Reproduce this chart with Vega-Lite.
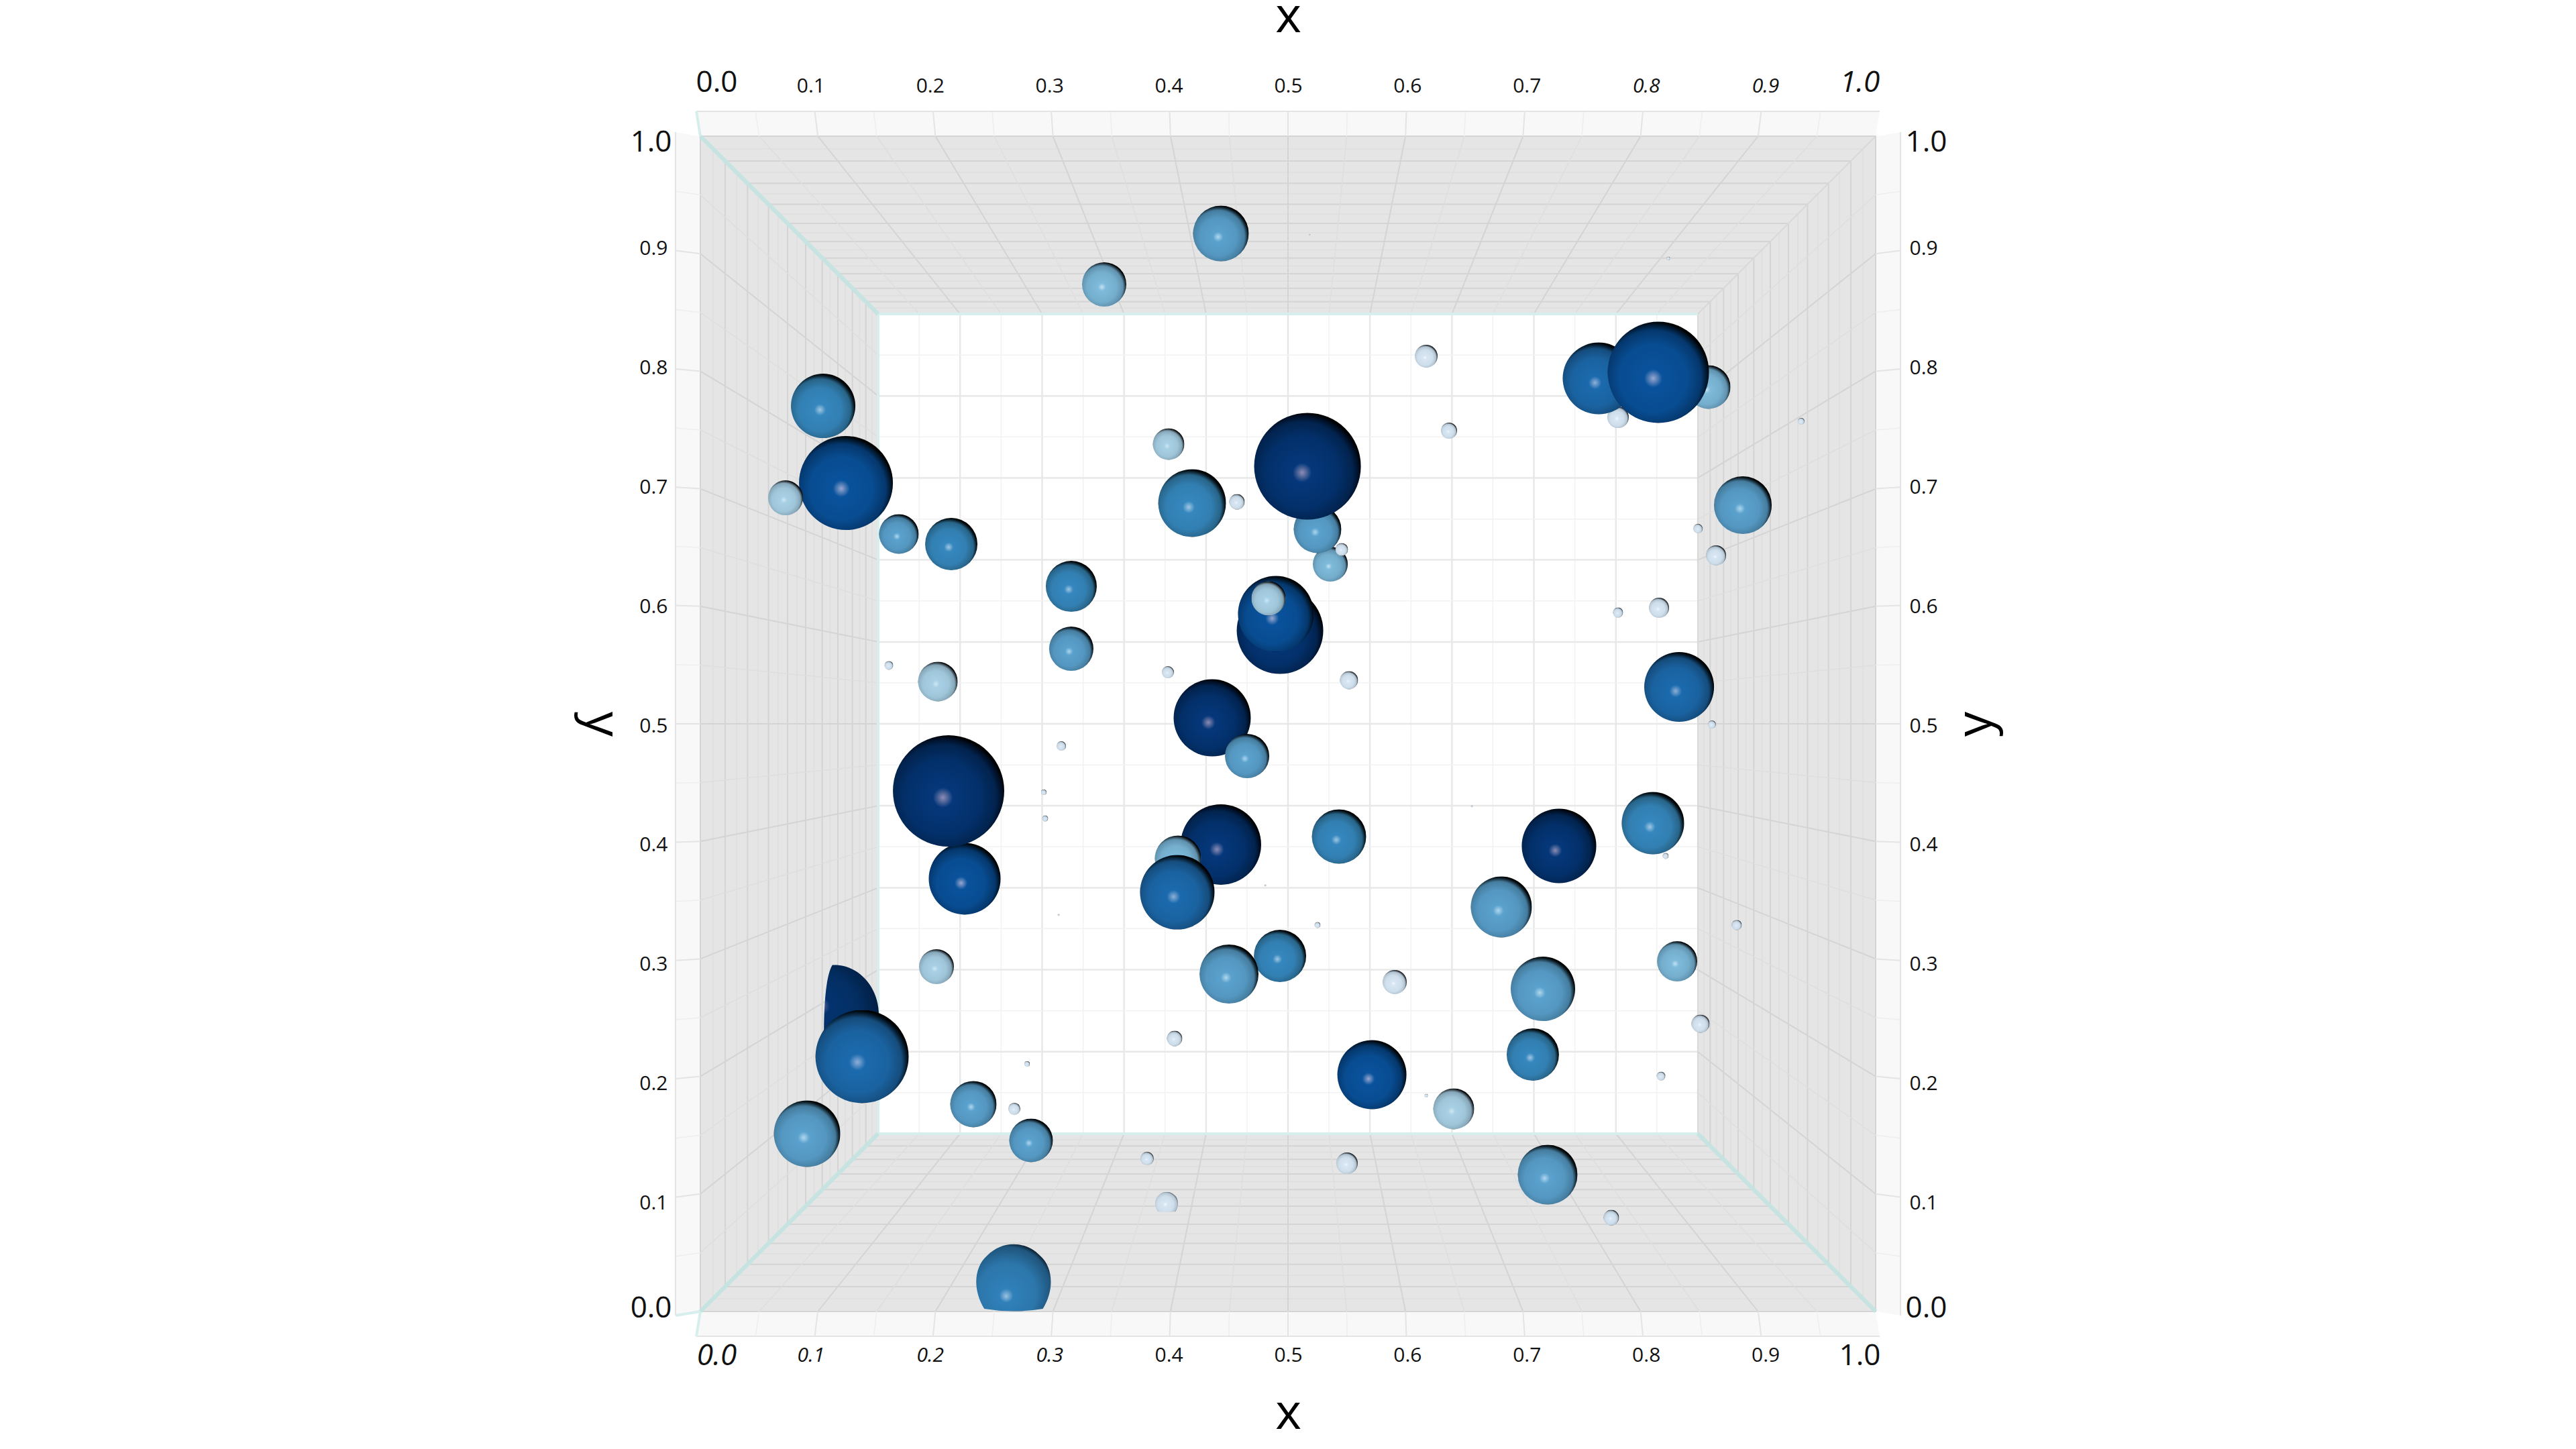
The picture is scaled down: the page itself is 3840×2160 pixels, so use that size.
{"$schema":"https://vega.github.io/schema/vega-lite/v6.json","width":1752,"height":1752,"autosize":{"type":"none"},"padding":{"left":1044,"top":203,"right":1044,"bottom":205},"background":"white","config":{"view":{"stroke":null},"font":"Open Sans"},
"datasets":{
"walls":[
{"p":"ft","c":"flap","x":-0.0034,"lo":1.0211,"hi":1.0211},{"p":"ft","c":"flap","x":0,"lo":1,"hi":1.0211},{"p":"ft","c":"flap","x":1,"lo":1,"hi":1.0211},{"p":"ft","c":"flap","x":1.0034,"lo":1.0211,"hi":1.0211},
{"p":"fb","c":"flap","x":-0.0034,"lo":-0.0211,"hi":-0.0211},{"p":"fb","c":"flap","x":0,"lo":-0.0211,"hi":0},{"p":"fb","c":"flap","x":1,"lo":-0.0211,"hi":0},{"p":"fb","c":"flap","x":1.0034,"lo":-0.0211,"hi":-0.0211},
{"p":"fl","c":"flap","x":-0.0211,"lo":-0.0034,"hi":1.0034},{"p":"fl","c":"flap","x":0,"lo":0,"hi":1},
{"p":"fr","c":"flap","x":1,"lo":0,"hi":1},{"p":"fr","c":"flap","x":1.0211,"lo":-0.0034,"hi":1.0034},
{"p":"t","c":"wall","x":0,"lo":1,"hi":1},{"p":"t","c":"wall","x":0.1513,"lo":0.8487,"hi":1},{"p":"t","c":"wall","x":0.8487,"lo":0.8487,"hi":1},{"p":"t","c":"wall","x":1,"lo":1,"hi":1},
{"p":"b","c":"wall","x":0,"lo":0,"hi":0},{"p":"b","c":"wall","x":0.1513,"lo":0,"hi":0.1513},{"p":"b","c":"wall","x":0.8487,"lo":0,"hi":0.1513},{"p":"b","c":"wall","x":1,"lo":0,"hi":0},
{"p":"l","c":"wall","x":0,"lo":0,"hi":1},{"p":"l","c":"wall","x":0.1513,"lo":0.1513,"hi":0.8487},
{"p":"r","c":"wall","x":0.8487,"lo":0.1513,"hi":0.8487},{"p":"r","c":"wall","x":1,"lo":0,"hi":1}],
"rings":[{"a":0,"b":1,"k":"W"},{"a":0.0108,"b":0.9892,"k":"w"},{"a":0.0211,"b":0.9789,"k":"W"},{"a":0.0308,"b":0.9692,"k":"w"},{"a":0.0401,"b":0.9599,"k":"W"},{"a":0.0491,"b":0.9509,"k":"w"},{"a":0.058,"b":0.942,"k":"W"},{"a":0.0662,"b":0.9338,"k":"w"},{"a":0.0742,"b":0.9258,"k":"W"},{"a":0.0822,"b":0.9178,"k":"w"},{"a":0.0896,"b":0.9104,"k":"W"},{"a":0.0967,"b":0.9033,"k":"w"},{"a":0.1037,"b":0.8963,"k":"W"},{"a":0.1104,"b":0.8896,"k":"w"},{"a":0.117,"b":0.883,"k":"W"},{"a":0.1233,"b":0.8767,"k":"w"},{"a":0.1294,"b":0.8706,"k":"W"},{"a":0.1355,"b":0.8645,"k":"w"},{"a":0.1408,"b":0.8592,"k":"W"},{"a":0.1461,"b":0.8539,"k":"w"}],
"grid":[
{"x":0.05,"y":1,"a":0.1862,"b":0.8487,"k":"w"},{"x":0.1,"y":1,"a":0.221,"b":0.8487,"k":"W"},{"x":0.15,"y":1,"a":0.2559,"b":0.8487,"k":"w"},{"x":0.2,"y":1,"a":0.2908,"b":0.8487,"k":"W"},{"x":0.25,"y":1,"a":0.3257,"b":0.8487,"k":"w"},{"x":0.3,"y":1,"a":0.3605,"b":0.8487,"k":"W"},{"x":0.35,"y":1,"a":0.3954,"b":0.8487,"k":"w"},{"x":0.4,"y":1,"a":0.4303,"b":0.8487,"k":"W"},{"x":0.45,"y":1,"a":0.4651,"b":0.8487,"k":"w"},{"x":0.5,"y":1,"a":0.5,"b":0.8487,"k":"W"},{"x":0.55,"y":1,"a":0.5349,"b":0.8487,"k":"w"},{"x":0.6,"y":1,"a":0.5697,"b":0.8487,"k":"W"},{"x":0.65,"y":1,"a":0.6046,"b":0.8487,"k":"w"},{"x":0.7,"y":1,"a":0.6395,"b":0.8487,"k":"W"},{"x":0.75,"y":1,"a":0.6743,"b":0.8487,"k":"w"},{"x":0.8,"y":1,"a":0.7092,"b":0.8487,"k":"W"},{"x":0.85,"y":1,"a":0.7441,"b":0.8487,"k":"w"},{"x":0.9,"y":1,"a":0.779,"b":0.8487,"k":"W"},{"x":0.95,"y":1,"a":0.8138,"b":0.8487,"k":"w"},
{"x":0.05,"y":0,"a":0.1862,"b":0.1513,"k":"w"},{"x":0.1,"y":0,"a":0.221,"b":0.1513,"k":"W"},{"x":0.15,"y":0,"a":0.2559,"b":0.1513,"k":"w"},{"x":0.2,"y":0,"a":0.2908,"b":0.1513,"k":"W"},{"x":0.25,"y":0,"a":0.3257,"b":0.1513,"k":"w"},{"x":0.3,"y":0,"a":0.3605,"b":0.1513,"k":"W"},{"x":0.35,"y":0,"a":0.3954,"b":0.1513,"k":"w"},{"x":0.4,"y":0,"a":0.4303,"b":0.1513,"k":"W"},{"x":0.45,"y":0,"a":0.4651,"b":0.1513,"k":"w"},{"x":0.5,"y":0,"a":0.5,"b":0.1513,"k":"W"},{"x":0.55,"y":0,"a":0.5349,"b":0.1513,"k":"w"},{"x":0.6,"y":0,"a":0.5697,"b":0.1513,"k":"W"},{"x":0.65,"y":0,"a":0.6046,"b":0.1513,"k":"w"},{"x":0.7,"y":0,"a":0.6395,"b":0.1513,"k":"W"},{"x":0.75,"y":0,"a":0.6743,"b":0.1513,"k":"w"},{"x":0.8,"y":0,"a":0.7092,"b":0.1513,"k":"W"},{"x":0.85,"y":0,"a":0.7441,"b":0.1513,"k":"w"},{"x":0.9,"y":0,"a":0.779,"b":0.1513,"k":"W"},{"x":0.95,"y":0,"a":0.8138,"b":0.1513,"k":"w"},
{"x":0,"y":0.05,"a":0.1513,"b":0.1862,"k":"w"},{"x":0,"y":0.1,"a":0.1513,"b":0.221,"k":"W"},{"x":0,"y":0.15,"a":0.1513,"b":0.2559,"k":"w"},{"x":0,"y":0.2,"a":0.1513,"b":0.2908,"k":"W"},{"x":0,"y":0.25,"a":0.1513,"b":0.3257,"k":"w"},{"x":0,"y":0.3,"a":0.1513,"b":0.3605,"k":"W"},{"x":0,"y":0.35,"a":0.1513,"b":0.3954,"k":"w"},{"x":0,"y":0.4,"a":0.1513,"b":0.4303,"k":"W"},{"x":0,"y":0.45,"a":0.1513,"b":0.4651,"k":"w"},{"x":0,"y":0.5,"a":0.1513,"b":0.5,"k":"W"},{"x":0,"y":0.55,"a":0.1513,"b":0.5349,"k":"w"},{"x":0,"y":0.6,"a":0.1513,"b":0.5697,"k":"W"},{"x":0,"y":0.65,"a":0.1513,"b":0.6046,"k":"w"},{"x":0,"y":0.7,"a":0.1513,"b":0.6395,"k":"W"},{"x":0,"y":0.75,"a":0.1513,"b":0.6743,"k":"w"},{"x":0,"y":0.8,"a":0.1513,"b":0.7092,"k":"W"},{"x":0,"y":0.85,"a":0.1513,"b":0.7441,"k":"w"},{"x":0,"y":0.9,"a":0.1513,"b":0.779,"k":"W"},{"x":0,"y":0.95,"a":0.1513,"b":0.8138,"k":"w"},
{"x":1,"y":0.05,"a":0.8487,"b":0.1862,"k":"w"},{"x":1,"y":0.1,"a":0.8487,"b":0.221,"k":"W"},{"x":1,"y":0.15,"a":0.8487,"b":0.2559,"k":"w"},{"x":1,"y":0.2,"a":0.8487,"b":0.2908,"k":"W"},{"x":1,"y":0.25,"a":0.8487,"b":0.3257,"k":"w"},{"x":1,"y":0.3,"a":0.8487,"b":0.3605,"k":"W"},{"x":1,"y":0.35,"a":0.8487,"b":0.3954,"k":"w"},{"x":1,"y":0.4,"a":0.8487,"b":0.4303,"k":"W"},{"x":1,"y":0.45,"a":0.8487,"b":0.4651,"k":"w"},{"x":1,"y":0.5,"a":0.8487,"b":0.5,"k":"W"},{"x":1,"y":0.55,"a":0.8487,"b":0.5349,"k":"w"},{"x":1,"y":0.6,"a":0.8487,"b":0.5697,"k":"W"},{"x":1,"y":0.65,"a":0.8487,"b":0.6046,"k":"w"},{"x":1,"y":0.7,"a":0.8487,"b":0.6395,"k":"W"},{"x":1,"y":0.75,"a":0.8487,"b":0.6743,"k":"w"},{"x":1,"y":0.8,"a":0.8487,"b":0.7092,"k":"W"},{"x":1,"y":0.85,"a":0.8487,"b":0.7441,"k":"w"},{"x":1,"y":0.9,"a":0.8487,"b":0.779,"k":"W"},{"x":1,"y":0.95,"a":0.8487,"b":0.8138,"k":"w"},
{"x":0.1862,"y":0.1513,"a":0.1862,"b":0.8487,"k":"b"},{"x":0.221,"y":0.1513,"a":0.221,"b":0.8487,"k":"B"},{"x":0.2559,"y":0.1513,"a":0.2559,"b":0.8487,"k":"b"},{"x":0.2908,"y":0.1513,"a":0.2908,"b":0.8487,"k":"B"},{"x":0.3257,"y":0.1513,"a":0.3257,"b":0.8487,"k":"b"},{"x":0.3605,"y":0.1513,"a":0.3605,"b":0.8487,"k":"B"},{"x":0.3954,"y":0.1513,"a":0.3954,"b":0.8487,"k":"b"},{"x":0.4303,"y":0.1513,"a":0.4303,"b":0.8487,"k":"B"},{"x":0.4651,"y":0.1513,"a":0.4651,"b":0.8487,"k":"b"},{"x":0.5,"y":0.1513,"a":0.5,"b":0.8487,"k":"B"},{"x":0.5349,"y":0.1513,"a":0.5349,"b":0.8487,"k":"b"},{"x":0.5697,"y":0.1513,"a":0.5697,"b":0.8487,"k":"B"},{"x":0.6046,"y":0.1513,"a":0.6046,"b":0.8487,"k":"b"},{"x":0.6395,"y":0.1513,"a":0.6395,"b":0.8487,"k":"B"},{"x":0.6743,"y":0.1513,"a":0.6743,"b":0.8487,"k":"b"},{"x":0.7092,"y":0.1513,"a":0.7092,"b":0.8487,"k":"B"},{"x":0.7441,"y":0.1513,"a":0.7441,"b":0.8487,"k":"b"},{"x":0.779,"y":0.1513,"a":0.779,"b":0.8487,"k":"B"},{"x":0.8138,"y":0.1513,"a":0.8138,"b":0.8487,"k":"b"},
{"x":0.1513,"y":0.1862,"a":0.8487,"b":0.1862,"k":"b"},{"x":0.1513,"y":0.221,"a":0.8487,"b":0.221,"k":"B"},{"x":0.1513,"y":0.2559,"a":0.8487,"b":0.2559,"k":"b"},{"x":0.1513,"y":0.2908,"a":0.8487,"b":0.2908,"k":"B"},{"x":0.1513,"y":0.3257,"a":0.8487,"b":0.3257,"k":"b"},{"x":0.1513,"y":0.3605,"a":0.8487,"b":0.3605,"k":"B"},{"x":0.1513,"y":0.3954,"a":0.8487,"b":0.3954,"k":"b"},{"x":0.1513,"y":0.4303,"a":0.8487,"b":0.4303,"k":"B"},{"x":0.1513,"y":0.4651,"a":0.8487,"b":0.4651,"k":"b"},{"x":0.1513,"y":0.5,"a":0.8487,"b":0.5,"k":"B"},{"x":0.1513,"y":0.5349,"a":0.8487,"b":0.5349,"k":"b"},{"x":0.1513,"y":0.5697,"a":0.8487,"b":0.5697,"k":"B"},{"x":0.1513,"y":0.6046,"a":0.8487,"b":0.6046,"k":"b"},{"x":0.1513,"y":0.6395,"a":0.8487,"b":0.6395,"k":"B"},{"x":0.1513,"y":0.6743,"a":0.8487,"b":0.6743,"k":"b"},{"x":0.1513,"y":0.7092,"a":0.8487,"b":0.7092,"k":"B"},{"x":0.1513,"y":0.7441,"a":0.8487,"b":0.7441,"k":"b"},{"x":0.1513,"y":0.779,"a":0.8487,"b":0.779,"k":"B"},{"x":0.1513,"y":0.8138,"a":0.8487,"b":0.8138,"k":"b"},
{"x":0.05,"y":1,"a":0.0469,"b":1.0211,"k":"f"},{"x":0.1,"y":1,"a":0.0973,"b":1.0211,"k":"F"},{"x":0.15,"y":1,"a":0.1476,"b":1.0211,"k":"f"},{"x":0.2,"y":1,"a":0.198,"b":1.0211,"k":"F"},{"x":0.25,"y":1,"a":0.2483,"b":1.0211,"k":"f"},{"x":0.3,"y":1,"a":0.2986,"b":1.0211,"k":"F"},{"x":0.35,"y":1,"a":0.349,"b":1.0211,"k":"f"},{"x":0.4,"y":1,"a":0.3993,"b":1.0211,"k":"F"},{"x":0.45,"y":1,"a":0.4497,"b":1.0211,"k":"f"},{"x":0.5,"y":1,"a":0.5,"b":1.0211,"k":"F"},{"x":0.55,"y":1,"a":0.5503,"b":1.0211,"k":"f"},{"x":0.6,"y":1,"a":0.6007,"b":1.0211,"k":"F"},{"x":0.65,"y":1,"a":0.651,"b":1.0211,"k":"f"},{"x":0.7,"y":1,"a":0.7014,"b":1.0211,"k":"F"},{"x":0.75,"y":1,"a":0.7517,"b":1.0211,"k":"f"},{"x":0.8,"y":1,"a":0.802,"b":1.0211,"k":"F"},{"x":0.85,"y":1,"a":0.8524,"b":1.0211,"k":"f"},{"x":0.9,"y":1,"a":0.9027,"b":1.0211,"k":"F"},{"x":0.95,"y":1,"a":0.9531,"b":1.0211,"k":"f"},
{"x":0.05,"y":0,"a":0.0469,"b":-0.0211,"k":"f"},{"x":0.1,"y":0,"a":0.0973,"b":-0.0211,"k":"F"},{"x":0.15,"y":0,"a":0.1476,"b":-0.0211,"k":"f"},{"x":0.2,"y":0,"a":0.198,"b":-0.0211,"k":"F"},{"x":0.25,"y":0,"a":0.2483,"b":-0.0211,"k":"f"},{"x":0.3,"y":0,"a":0.2986,"b":-0.0211,"k":"F"},{"x":0.35,"y":0,"a":0.349,"b":-0.0211,"k":"f"},{"x":0.4,"y":0,"a":0.3993,"b":-0.0211,"k":"F"},{"x":0.45,"y":0,"a":0.4497,"b":-0.0211,"k":"f"},{"x":0.5,"y":0,"a":0.5,"b":-0.0211,"k":"F"},{"x":0.55,"y":0,"a":0.5503,"b":-0.0211,"k":"f"},{"x":0.6,"y":0,"a":0.6007,"b":-0.0211,"k":"F"},{"x":0.65,"y":0,"a":0.651,"b":-0.0211,"k":"f"},{"x":0.7,"y":0,"a":0.7014,"b":-0.0211,"k":"F"},{"x":0.75,"y":0,"a":0.7517,"b":-0.0211,"k":"f"},{"x":0.8,"y":0,"a":0.802,"b":-0.0211,"k":"F"},{"x":0.85,"y":0,"a":0.8524,"b":-0.0211,"k":"f"},{"x":0.9,"y":0,"a":0.9027,"b":-0.0211,"k":"F"},{"x":0.95,"y":0,"a":0.9531,"b":-0.0211,"k":"f"},
{"x":0,"y":0.05,"a":-0.0211,"b":0.0469,"k":"f"},{"x":0,"y":0.1,"a":-0.0211,"b":0.0973,"k":"F"},{"x":0,"y":0.15,"a":-0.0211,"b":0.1476,"k":"f"},{"x":0,"y":0.2,"a":-0.0211,"b":0.198,"k":"F"},{"x":0,"y":0.25,"a":-0.0211,"b":0.2483,"k":"f"},{"x":0,"y":0.3,"a":-0.0211,"b":0.2986,"k":"F"},{"x":0,"y":0.35,"a":-0.0211,"b":0.349,"k":"f"},{"x":0,"y":0.4,"a":-0.0211,"b":0.3993,"k":"F"},{"x":0,"y":0.45,"a":-0.0211,"b":0.4497,"k":"f"},{"x":0,"y":0.5,"a":-0.0211,"b":0.5,"k":"F"},{"x":0,"y":0.55,"a":-0.0211,"b":0.5503,"k":"f"},{"x":0,"y":0.6,"a":-0.0211,"b":0.6007,"k":"F"},{"x":0,"y":0.65,"a":-0.0211,"b":0.651,"k":"f"},{"x":0,"y":0.7,"a":-0.0211,"b":0.7014,"k":"F"},{"x":0,"y":0.75,"a":-0.0211,"b":0.7517,"k":"f"},{"x":0,"y":0.8,"a":-0.0211,"b":0.802,"k":"F"},{"x":0,"y":0.85,"a":-0.0211,"b":0.8524,"k":"f"},{"x":0,"y":0.9,"a":-0.0211,"b":0.9027,"k":"F"},{"x":0,"y":0.95,"a":-0.0211,"b":0.9531,"k":"f"},
{"x":1,"y":0.05,"a":1.0211,"b":0.0469,"k":"f"},{"x":1,"y":0.1,"a":1.0211,"b":0.0973,"k":"F"},{"x":1,"y":0.15,"a":1.0211,"b":0.1476,"k":"f"},{"x":1,"y":0.2,"a":1.0211,"b":0.198,"k":"F"},{"x":1,"y":0.25,"a":1.0211,"b":0.2483,"k":"f"},{"x":1,"y":0.3,"a":1.0211,"b":0.2986,"k":"F"},{"x":1,"y":0.35,"a":1.0211,"b":0.349,"k":"f"},{"x":1,"y":0.4,"a":1.0211,"b":0.3993,"k":"F"},{"x":1,"y":0.45,"a":1.0211,"b":0.4497,"k":"f"},{"x":1,"y":0.5,"a":1.0211,"b":0.5,"k":"F"},{"x":1,"y":0.55,"a":1.0211,"b":0.5503,"k":"f"},{"x":1,"y":0.6,"a":1.0211,"b":0.6007,"k":"F"},{"x":1,"y":0.65,"a":1.0211,"b":0.651,"k":"f"},{"x":1,"y":0.7,"a":1.0211,"b":0.7014,"k":"F"},{"x":1,"y":0.75,"a":1.0211,"b":0.7517,"k":"f"},{"x":1,"y":0.8,"a":1.0211,"b":0.802,"k":"F"},{"x":1,"y":0.85,"a":1.0211,"b":0.8524,"k":"f"},{"x":1,"y":0.9,"a":1.0211,"b":0.9027,"k":"F"},{"x":1,"y":0.95,"a":1.0211,"b":0.9531,"k":"f"},
{"x":-0.0034,"y":1.0211,"a":1.0034,"b":1.0211,"k":"F"},{"x":-0.0034,"y":-0.0211,"a":1.0034,"b":-0.0211,"k":"F"},{"x":-0.0211,"y":-0.0034,"a":-0.0211,"b":1.0034,"k":"F"},{"x":1.0211,"y":-0.0034,"a":1.0211,"b":1.0034,"k":"F"},
{"x":1,"y":1,"a":0.8487,"b":0.8487,"k":"G"},{"x":0.8487,"y":0.1513,"a":0.8487,"b":0.8487,"k":"G"},
{"x":0.1513,"y":0.8487,"a":0.8487,"b":0.8487,"k":"e"},{"x":0.1513,"y":0.1513,"a":0.8487,"b":0.1513,"k":"e"},{"x":0.1513,"y":0.1513,"a":0.1513,"b":0.8487,"k":"e"},
{"x":0,"y":1,"a":-0.0034,"b":1.0211,"k":"e"},{"x":0,"y":0,"a":-0.0034,"b":-0.0211,"k":"e"},{"x":0,"y":0,"a":-0.0211,"b":-0.0034,"k":"e"},
{"x":0,"y":1,"a":0.1513,"b":0.8487,"k":"E"},{"x":0,"y":0,"a":0.1513,"b":0.1513,"k":"E"},{"x":1,"y":0,"a":0.8487,"b":0.1513,"k":"E"}],
"clipped":[{"x":0.1279,"y":0.266,"d":0.0479,"t":"C","s":"cut"},{"x":0.2665,"y":0.0285,"d":0.0639,"t":"T4","s":"dome"},{"x":0.3967,"y":0.093,"d":0.0194,"t":"T8","s":"dome"}],
"spheres":[
{"x":0.5183,"y":0.9161,"d":0.0015,"t":"T8"},{"x":0.8236,"y":0.8961,"d":0.003,"t":"T8"},
{"x":0.4429,"y":0.9172,"d":0.0474,"t":"T5"},{"x":0.3436,"y":0.8739,"d":0.0377,"t":"T6"},{"x":0.6176,"y":0.8128,"d":0.0194,"t":"T8"},{"x":0.1045,"y":0.7705,"d":0.0548,"t":"T4"},{"x":0.0725,"y":0.6923,"d":0.0297,"t":"T7"},{"x":0.1239,"y":0.7049,"d":0.0799,"t":"T2"},{"x":0.1689,"y":0.6615,"d":0.0337,"t":"T5"},{"x":0.2135,"y":0.653,"d":0.0445,"t":"T4"},{"x":0.3984,"y":0.738,"d":0.0268,"t":"T7"},{"x":0.4184,"y":0.6878,"d":0.0576,"t":"T4"},{"x":0.4566,"y":0.6889,"d":0.0131,"t":"T8"},
{"x":0.536,"y":0.6358,"d":0.0297,"t":"T6","g":"a"},{"x":0.5251,"y":0.6655,"d":0.0405,"t":"T5","g":"a"},{"x":0.5457,"y":0.6484,"d":0.0108,"t":"T8","g":"a"},{"x":0.5166,"y":0.7192,"d":0.0908,"t":"T1"},
{"x":0.637,"y":0.7494,"d":0.0137,"t":"T8"},{"x":0.7808,"y":0.7608,"d":0.0183,"t":"T8","g":"a"},{"x":0.7643,"y":0.7939,"d":0.0611,"t":"T3","g":"a"},{"x":0.8579,"y":0.7865,"d":0.0371,"t":"T6","g":"a"},{"x":0.8151,"y":0.7991,"d":0.0862,"t":"T2"},
{"x":0.887,"y":0.6861,"d":0.0491,"t":"T5"},{"x":0.9366,"y":0.7574,"d":0.0057,"t":"T8"},{"x":0.8488,"y":0.6661,"d":0.008,"t":"T8"},{"x":0.8642,"y":0.6433,"d":0.0171,"t":"T8"},{"x":0.8157,"y":0.5987,"d":0.0171,"t":"T8"},{"x":0.7808,"y":0.5947,"d":0.0086,"t":"T8"},{"x":0.3156,"y":0.617,"d":0.0434,"t":"T4"},{"x":0.3156,"y":0.5639,"d":0.0377,"t":"T5"},{"x":0.2021,"y":0.536,"d":0.0337,"t":"T7"},{"x":0.1604,"y":0.5497,"d":0.0074,"t":"T8"},{"x":0.3978,"y":0.5439,"d":0.0103,"t":"T8"},
{"x":0.4932,"y":0.5793,"d":0.0736,"t":"T1"},{"x":0.4897,"y":0.5936,"d":0.0645,"t":"T2"},{"x":0.4834,"y":0.6067,"d":0.0291,"t":"T7"},
{"x":0.5519,"y":0.5371,"d":0.0154,"t":"T8"},{"x":0.8328,"y":0.5314,"d":0.0594,"t":"T3"},{"x":0.8607,"y":0.4994,"d":0.0068,"t":"T8"},{"x":0.4355,"y":0.5051,"d":0.0656,"t":"T1"},{"x":0.4652,"y":0.4726,"d":0.0377,"t":"T5"},
{"x":0.2249,"y":0.3682,"d":0.0611,"t":"T2","g":"a"},{"x":0.2112,"y":0.4429,"d":0.0947,"t":"T1"},
{"x":0.3071,"y":0.4812,"d":0.008,"t":"T8"},{"x":0.2922,"y":0.4418,"d":0.0046,"t":"T8"},{"x":0.2934,"y":0.4195,"d":0.0051,"t":"T8"},{"x":0.8105,"y":0.4155,"d":0.0531,"t":"T4"},{"x":0.6564,"y":0.4298,"d":0.0017,"t":"T8"},
{"x":0.4429,"y":0.3973,"d":0.0685,"t":"T1"},{"x":0.4064,"y":0.3853,"d":0.0394,"t":"T6","g":"b"},{"x":0.4058,"y":0.3567,"d":0.0634,"t":"T3"},
{"x":0.5434,"y":0.4041,"d":0.0462,"t":"T4"},{"x":0.7306,"y":0.3961,"d":0.0634,"t":"T1"},{"x":0.8213,"y":0.3876,"d":0.0051,"t":"T8"},{"x":0.6815,"y":0.3442,"d":0.0519,"t":"T5"},{"x":0.3048,"y":0.3373,"d":0.0017,"t":"T8"},{"x":0.4806,"y":0.3624,"d":0.0017,"t":"T8"},{"x":0.5251,"y":0.3288,"d":0.0051,"t":"T8"},{"x":0.8818,"y":0.3288,"d":0.0086,"t":"T8"},{"x":0.8311,"y":0.2979,"d":0.0342,"t":"T6"},{"x":0.2009,"y":0.2934,"d":0.0297,"t":"T7"},{"x":0.4932,"y":0.3025,"d":0.0445,"t":"T4"},{"x":0.4498,"y":0.2871,"d":0.0502,"t":"T5"},{"x":0.5908,"y":0.2803,"d":0.0205,"t":"T8"},{"x":0.7169,"y":0.2745,"d":0.0548,"t":"T5"},{"x":0.851,"y":0.2449,"d":0.0154,"t":"T8"},{"x":0.4035,"y":0.2323,"d":0.0131,"t":"T8"},{"x":0.278,"y":0.2106,"d":0.0046,"t":"T8"},{"x":0.7083,"y":0.2186,"d":0.0445,"t":"T4"},{"x":0.5714,"y":0.2015,"d":0.0588,"t":"T2"},{"x":0.8174,"y":0.2003,"d":0.0074,"t":"T8"},
{"x":0.1376,"y":0.2169,"d":0.0793,"t":"T3"},{"x":0.2323,"y":0.1764,"d":0.0394,"t":"T5"},{"x":0.2671,"y":0.1724,"d":0.0103,"t":"T8"},{"x":0.641,"y":0.1724,"d":0.0348,"t":"T7"},{"x":0.6176,"y":0.1838,"d":0.0029,"t":"T8"},{"x":0.0908,"y":0.1513,"d":0.0565,"t":"T5"},{"x":0.2814,"y":0.1455,"d":0.0371,"t":"T5"},{"x":0.3801,"y":0.1301,"d":0.0114,"t":"T8"},{"x":0.5502,"y":0.1261,"d":0.0183,"t":"T8"},{"x":0.7209,"y":0.1164,"d":0.0508,"t":"T5"},{"x":0.7751,"y":0.0799,"d":0.0131,"t":"T8"}]
},
"resolve":{"axis":{"x":"independent","y":"independent"}},
"layer":[
{"data":{"name":"walls"},"mark":{"type":"area","interpolate":"linear"},"encoding":{
"x":{"field":"x","type":"quantitative","scale":{"domain":[0,1],"nice":false,"zero":false},"title":"x","axis":{"orient":"bottom","values":[0,0.1,0.2,0.3,0.4,0.5,0.6,0.7,0.8,0.9,1],"format":".1f","grid":false,"ticks":false,"domain":false,"labelOverlap":false,"labelBound":false,"labelFlush":false,"labelFont":"Open Sans","labelColor":"#111","labelFontSize":{"expr":"datum.value==0||datum.value==1?44:30"},"labelFontStyle":{"expr":"datum.value<0.35?'italic':'normal'"},"labelOffset":{"expr":"datum.value==0?24:datum.value==1?-24:(datum.value-0.5)*27"},"labelPadding":{"expr":"datum.value==0||datum.value==1?44:50"},"titleFont":"Open Sans","titleFontSize":74,"titleFontWeight":"normal","titleColor":"#000","titlePadding":28}},
"y":{"field":"lo","type":"quantitative","scale":{"domain":[0,1],"nice":false,"zero":false},"title":"y","axis":{"orient":"left","values":[0,0.1,0.2,0.3,0.4,0.5,0.6,0.7,0.8,0.9,1],"format":".1f","grid":false,"ticks":false,"domain":false,"labelOverlap":false,"labelBound":false,"labelFlush":false,"labelFont":"Open Sans","labelColor":"#111","labelFontSize":{"expr":"datum.value==0||datum.value==1?44:30"},"labelOffset":{"expr":"datum.value==1?9:datum.value==0?-5:(0.5-datum.value)*27+3"},"labelPadding":{"expr":"datum.value==0||datum.value==1?43:49"},"titleFont":"Open Sans","titleFontSize":74,"titleFontWeight":"normal","titleColor":"#000","titleAngle":90,"titlePadding":82}},
"y2":{"field":"hi"},"detail":{"field":"p"},
"color":{"field":"c","type":"nominal","scale":{"domain":["wall","flap"],"range":["#e5e5e5","#f8f8f8"]},"legend":null}}},
{"data":{"name":"rings"},"mark":{"type":"rect","fillOpacity":0},"encoding":{
"x":{"field":"a","type":"quantitative","scale":{"domain":[0,1],"nice":false,"zero":false},"axis":null},"x2":{"field":"b"},
"y":{"field":"a","type":"quantitative","scale":{"domain":[0,1],"nice":false,"zero":false},"axis":null},"y2":{"field":"b"},
"stroke":{"field":"k","type":"nominal","scale":{"domain":["W","w","B","b","F","f","E","e","G"],"range":["#d4d4d4","#dedede","#e8e8e8","#f2f2f2","#e4e4e4","#eeeeee","#c4e3e1","#d6eeec","#d8d8d8"]},"legend":null},
"strokeWidth":{"field":"k","type":"nominal","scale":{"type":"ordinal","domain":["W","w","B","b","F","f","E","e","G"],"range":[2,1.5,2.5,1.5,2,1.5,6,4,2]},"legend":null}}},
{"data":{"name":"grid"},"mark":{"type":"rule"},"encoding":{
"x":{"field":"x","type":"quantitative","scale":{"domain":[0,1],"nice":false,"zero":false},"axis":null},"x2":{"field":"a"},
"y":{"field":"y","type":"quantitative","scale":{"domain":[0,1],"nice":false,"zero":false},"axis":null},"y2":{"field":"b"},
"stroke":{"field":"k","type":"nominal","scale":{"domain":["W","w","B","b","F","f","E","e","G"],"range":["#d4d4d4","#dedede","#e8e8e8","#f2f2f2","#e4e4e4","#eeeeee","#c4e3e1","#d6eeec","#d8d8d8"]},"legend":null},
"strokeWidth":{"field":"k","type":"nominal","scale":{"type":"ordinal","domain":["W","w","B","b","F","f","E","e","G"],"range":[2,1.5,2.5,1.5,2,1.5,6,4,2]},"legend":null}}},
{"data":{"name":"spheres"},
"encoding":{
"x":{"field":"x","type":"quantitative","scale":{"domain":[0,1],"nice":false,"zero":false},"title":"x","axis":{"orient":"top","values":[0,0.1,0.2,0.3,0.4,0.5,0.6,0.7,0.8,0.9,1],"format":".1f","grid":false,"ticks":false,"domain":false,"labelOverlap":false,"labelBound":false,"labelFlush":false,"labelFont":"Open Sans","labelColor":"#111","labelFontSize":{"expr":"datum.value==0||datum.value==1?44:30"},"labelFontStyle":{"expr":"datum.value>0.75?'italic':'normal'"},"labelOffset":{"expr":"datum.value==0?24:datum.value==1?-24:(datum.value-0.5)*27"},"labelPadding":{"expr":"datum.value==0||datum.value==1?58:60"},"titleFont":"Open Sans","titleFontSize":74,"titleFontWeight":"normal","titleColor":"#000","titlePadding":38}},
"y":{"field":"y","type":"quantitative","scale":{"domain":[0,1],"nice":false,"zero":false},"title":"y","axis":{"orient":"right","values":[0,0.1,0.2,0.3,0.4,0.5,0.6,0.7,0.8,0.9,1],"format":".1f","grid":false,"ticks":false,"domain":false,"labelOverlap":false,"labelBound":false,"labelFlush":false,"labelFont":"Open Sans","labelColor":"#111","labelFontSize":{"expr":"datum.value==0||datum.value==1?44:30"},"labelOffset":{"expr":"datum.value==1?9:datum.value==0?-5:(0.5-datum.value)*27+3"},"labelPadding":{"expr":"datum.value==0||datum.value==1?44:50"},"titleFont":"Open Sans","titleFontSize":74,"titleFontWeight":"normal","titleColor":"#000","titleAngle":270,"titlePadding":82}},
"size":{"field":"d","type":"quantitative","scale":{"type":"pow","exponent":2,"domain":[0,0.1],"range":[0,30695]},"legend":null}},
"layer":[
{"transform":[{"filter":"datum.t=='T6'&&datum.g=='a'"}],"mark":{"type":"point","filled":true,"opacity":1,"shape":"circle","fill":{"gradient":"radial","x1":0.45,"y1":0.56,"r1":0,"x2":0.45,"y2":0.56,"r2":0.56,"stops":[{"offset":0,"color":"#c5e3f4"},{"offset":0.16,"color":"#7ebada"},{"offset":0.6,"color":"#75aecd"},{"offset":0.85,"color":"#5f91ad"},{"offset":0.96,"color":"#1c2a33"},{"offset":1,"color":"#000000"}]}}},
{"transform":[{"filter":"datum.t=='T5'&&datum.g=='a'"}],"mark":{"type":"point","filled":true,"opacity":1,"shape":"circle","fill":{"gradient":"radial","x1":0.45,"y1":0.56,"r1":0,"x2":0.45,"y2":0.56,"r2":0.56,"stops":[{"offset":0,"color":"#b0d8ef"},{"offset":0.16,"color":"#5aa1cd"},{"offset":0.6,"color":"#5497c1"},{"offset":0.85,"color":"#457c9e"},{"offset":0.96,"color":"#0c1a22"},{"offset":1,"color":"#000000"}]}}},
{"transform":[{"filter":"datum.t=='T8'&&datum.g=='a'"}],"mark":{"type":"point","filled":true,"opacity":1,"shape":"circle","fill":{"gradient":"radial","x1":0.45,"y1":0.56,"r1":0,"x2":0.45,"y2":0.56,"r2":0.56,"stops":[{"offset":0,"color":"#f4f8fc"},{"offset":0.16,"color":"#d8e6f3"},{"offset":0.6,"color":"#cfdeeb"},{"offset":0.85,"color":"#b2c2cf"},{"offset":0.96,"color":"#3c4650"},{"offset":1,"color":"#111111"}]}}},
{"transform":[{"filter":"datum.t=='T2'&&datum.g=='a'"}],"mark":{"type":"point","filled":true,"opacity":1,"shape":"circle","fill":{"gradient":"radial","x1":0.45,"y1":0.56,"r1":0,"x2":0.45,"y2":0.56,"r2":0.56,"stops":[{"offset":0,"color":"#9aa8cf"},{"offset":0.16,"color":"#09529c"},{"offset":0.6,"color":"#084c91"},{"offset":0.85,"color":"#05376c"},{"offset":0.96,"color":"#001222"},{"offset":1,"color":"#000000"}]}}},
{"data":{"name":"clipped"},"transform":[{"filter":"datum.t=='C'"}],"mark":{"type":"point","filled":true,"opacity":1,"shape":"M-0.95,1.2 C-0.95,0.4 -0.9,-0.8 -0.65,-1.2 C0.2,-1.25 1,-0.5 1,0.6 L1,1.2 Z","fill":{"gradient":"radial","x1":0.05,"y1":0.6,"r1":0,"x2":0.1,"y2":0.7,"r2":1.05,"stops":[{"offset":0,"color":"#6a6a9f"},{"offset":0.12,"color":"#03336f"},{"offset":0.5,"color":"#032e62"},{"offset":0.85,"color":"#011a3a"},{"offset":0.92,"color":"#000000"},{"offset":1,"color":"#000000"}]}}},
{"transform":[{"filter":"datum.t=='T1'"}],"mark":{"type":"point","filled":true,"opacity":1,"shape":"circle","fill":{"gradient":"radial","x1":0.45,"y1":0.56,"r1":0,"x2":0.45,"y2":0.56,"r2":0.56,"stops":[{"offset":0,"color":"#8d8db4"},{"offset":0.16,"color":"#05377a"},{"offset":0.6,"color":"#03306a"},{"offset":0.85,"color":"#02234e"},{"offset":0.96,"color":"#000c1e"},{"offset":1,"color":"#000000"}]}}},
{"transform":[{"filter":"datum.t=='T3'&&datum.g=='a'"}],"mark":{"type":"point","filled":true,"opacity":1,"shape":"circle","fill":{"gradient":"radial","x1":0.45,"y1":0.56,"r1":0,"x2":0.45,"y2":0.56,"r2":0.56,"stops":[{"offset":0,"color":"#8fb0d8"},{"offset":0.16,"color":"#1b6aad"},{"offset":0.6,"color":"#1a62a0"},{"offset":0.85,"color":"#154c7c"},{"offset":0.96,"color":"#03121f"},{"offset":1,"color":"#000000"}]}}},
{"transform":[{"filter":"datum.t=='T2'&&!datum.g"}],"mark":{"type":"point","filled":true,"opacity":1,"shape":"circle","fill":{"gradient":"radial","x1":0.45,"y1":0.56,"r1":0,"x2":0.45,"y2":0.56,"r2":0.56,"stops":[{"offset":0,"color":"#9aa8cf"},{"offset":0.16,"color":"#09529c"},{"offset":0.6,"color":"#084c91"},{"offset":0.85,"color":"#05376c"},{"offset":0.96,"color":"#001222"},{"offset":1,"color":"#000000"}]}}},
{"transform":[{"filter":"datum.t=='T6'&&datum.g=='b'"}],"mark":{"type":"point","filled":true,"opacity":1,"shape":"circle","fill":{"gradient":"radial","x1":0.45,"y1":0.56,"r1":0,"x2":0.45,"y2":0.56,"r2":0.56,"stops":[{"offset":0,"color":"#c5e3f4"},{"offset":0.16,"color":"#7ebada"},{"offset":0.6,"color":"#75aecd"},{"offset":0.85,"color":"#5f91ad"},{"offset":0.96,"color":"#1c2a33"},{"offset":1,"color":"#000000"}]}}},
{"transform":[{"filter":"datum.t=='T3'&&!datum.g"}],"mark":{"type":"point","filled":true,"opacity":1,"shape":"circle","fill":{"gradient":"radial","x1":0.45,"y1":0.56,"r1":0,"x2":0.45,"y2":0.56,"r2":0.56,"stops":[{"offset":0,"color":"#8fb0d8"},{"offset":0.16,"color":"#1b6aad"},{"offset":0.6,"color":"#1a62a0"},{"offset":0.85,"color":"#154c7c"},{"offset":0.96,"color":"#03121f"},{"offset":1,"color":"#000000"}]}}},
{"transform":[{"filter":"datum.t=='T4'"}],"mark":{"type":"point","filled":true,"opacity":1,"shape":"circle","fill":{"gradient":"radial","x1":0.45,"y1":0.56,"r1":0,"x2":0.45,"y2":0.56,"r2":0.56,"stops":[{"offset":0,"color":"#a3c8e4"},{"offset":0.16,"color":"#3587be"},{"offset":0.6,"color":"#327fb2"},{"offset":0.85,"color":"#286488"},{"offset":0.96,"color":"#061219"},{"offset":1,"color":"#000000"}]}}},
{"data":{"name":"clipped"},"transform":[{"filter":"datum.t=='T4'"}],"mark":{"type":"point","filled":true,"opacity":1,"shape":"M-0.78,0.82 Q0,0.95 0.78,0.82 C1.1,0.3 1.05,-0.3 0.7,-0.6 C0.3,-1.0 -0.3,-1.0 -0.7,-0.6 C-1.05,-0.3 -1.1,0.3 -0.78,0.82 Z","fill":{"gradient":"radial","x1":0.4,"y1":0.75,"r1":0,"x2":0.42,"y2":0.66,"r2":0.72,"stops":[{"offset":0,"color":"#9cc3e0"},{"offset":0.13,"color":"#3080ba"},{"offset":0.55,"color":"#2c76aa"},{"offset":0.82,"color":"#1f557c"},{"offset":0.92,"color":"#020a10"},{"offset":1,"color":"#000000"}]}}},
{"transform":[{"filter":"datum.t=='T5'&&!datum.g"}],"mark":{"type":"point","filled":true,"opacity":1,"shape":"circle","fill":{"gradient":"radial","x1":0.45,"y1":0.56,"r1":0,"x2":0.45,"y2":0.56,"r2":0.56,"stops":[{"offset":0,"color":"#b0d8ef"},{"offset":0.16,"color":"#5aa1cd"},{"offset":0.6,"color":"#5497c1"},{"offset":0.85,"color":"#457c9e"},{"offset":0.96,"color":"#0c1a22"},{"offset":1,"color":"#000000"}]}}},
{"transform":[{"filter":"datum.t=='T6'&&!datum.g"}],"mark":{"type":"point","filled":true,"opacity":1,"shape":"circle","fill":{"gradient":"radial","x1":0.45,"y1":0.56,"r1":0,"x2":0.45,"y2":0.56,"r2":0.56,"stops":[{"offset":0,"color":"#c5e3f4"},{"offset":0.16,"color":"#7ebada"},{"offset":0.6,"color":"#75aecd"},{"offset":0.85,"color":"#5f91ad"},{"offset":0.96,"color":"#1c2a33"},{"offset":1,"color":"#000000"}]}}},
{"transform":[{"filter":"datum.t=='T7'"}],"mark":{"type":"point","filled":true,"opacity":1,"shape":"circle","fill":{"gradient":"radial","x1":0.45,"y1":0.56,"r1":0,"x2":0.45,"y2":0.56,"r2":0.56,"stops":[{"offset":0,"color":"#d2e8f4"},{"offset":0.16,"color":"#a8d0e5"},{"offset":0.6,"color":"#9fc5d9"},{"offset":0.85,"color":"#86a6b8"},{"offset":0.96,"color":"#2a3338"},{"offset":1,"color":"#000000"}]}}},
{"transform":[{"filter":"datum.t=='T8'&&!datum.g"}],"mark":{"type":"point","filled":true,"opacity":1,"shape":"circle","fill":{"gradient":"radial","x1":0.45,"y1":0.56,"r1":0,"x2":0.45,"y2":0.56,"r2":0.56,"stops":[{"offset":0,"color":"#f4f8fc"},{"offset":0.16,"color":"#d8e6f3"},{"offset":0.6,"color":"#cfdeeb"},{"offset":0.85,"color":"#b2c2cf"},{"offset":0.96,"color":"#3c4650"},{"offset":1,"color":"#111111"}]}}},
{"data":{"name":"clipped"},"transform":[{"filter":"datum.t=='T8'"}],"mark":{"type":"point","filled":true,"opacity":1,"shape":"M-0.78,0.82 Q0,0.95 0.78,0.82 C1.1,0.3 1.05,-0.3 0.7,-0.6 C0.3,-1.0 -0.3,-1.0 -0.7,-0.6 C-1.05,-0.3 -1.1,0.3 -0.78,0.82 Z","fill":{"gradient":"radial","x1":0.45,"y1":0.6,"r1":0,"x2":0.45,"y2":0.6,"r2":0.6,"stops":[{"offset":0,"color":"#f4f8fc"},{"offset":0.16,"color":"#d8e6f3"},{"offset":0.6,"color":"#cfdeeb"},{"offset":0.85,"color":"#b2c2cf"},{"offset":0.96,"color":"#3c4650"},{"offset":1,"color":"#111111"}]}}}
]}
]}
